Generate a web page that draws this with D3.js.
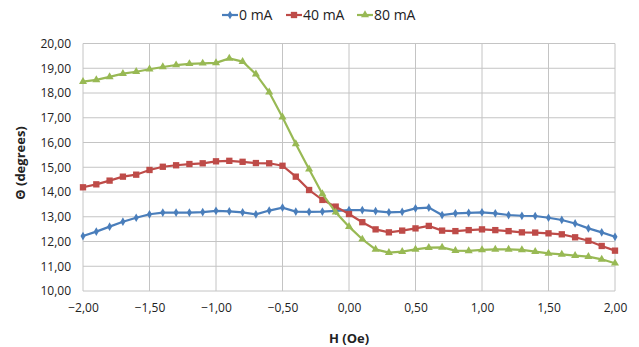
<!DOCTYPE html>
<html>
<head>
<meta charset="utf-8">
<script src="https://cdn.jsdelivr.net/npm/d3@7"></script>
<style>
  body { margin: 0; background: #fff; }
  text { font-family: "Open Sans", "Liberation Sans", sans-serif; fill: #222; }
</style>
</head>
<body>
<div id="chart"></div>
<script>
// Field values H (Oe)
const hValues = [
  -2.0, -1.9, -1.8, -1.7, -1.6, -1.5, -1.4, -1.3, -1.2, -1.1,
  -1.0, -0.9, -0.8, -0.7, -0.6, -0.5, -0.4, -0.3, -0.2, -0.1,
  0.0, 0.1, 0.2, 0.3, 0.4, 0.5, 0.6, 0.7, 0.8, 0.9,
  1.0, 1.1, 1.2, 1.3, 1.4, 1.5, 1.6, 1.7, 1.8, 1.9, 2.0
];

// Theta (degrees) for each current
const theta0mA = [
  12.22, 12.40, 12.60, 12.80, 12.96, 13.10, 13.17, 13.17, 13.17, 13.19,
  13.24, 13.22, 13.18, 13.10, 13.25, 13.37, 13.21, 13.20, 13.21, 13.24,
  13.27, 13.27, 13.23, 13.18, 13.20, 13.34, 13.37, 13.07, 13.14, 13.16,
  13.18, 13.14, 13.07, 13.04, 13.03, 12.96, 12.87, 12.73, 12.53, 12.37, 12.19
];
const theta40mA = [
  14.19, 14.31, 14.46, 14.62, 14.70, 14.89, 15.02, 15.08, 15.13, 15.16,
  15.24, 15.26, 15.22, 15.17, 15.16, 15.06, 14.62, 14.08, 13.68, 13.41,
  13.11, 12.78, 12.49, 12.37, 12.44, 12.53, 12.63, 12.44, 12.42, 12.46,
  12.49, 12.46, 12.42, 12.37, 12.36, 12.33, 12.29, 12.17, 12.03, 11.82, 11.63
];
const theta80mA = [
  18.46, 18.53, 18.65, 18.78, 18.86, 18.96, 19.05, 19.13, 19.18, 19.20,
  19.22, 19.40, 19.27, 18.76, 18.03, 17.02, 15.94, 14.92, 13.92, 13.18,
  12.60, 12.09, 11.68, 11.55, 11.59, 11.68, 11.75, 11.76, 11.63, 11.62,
  11.66, 11.68, 11.68, 11.66, 11.59, 11.52, 11.48, 11.43, 11.39, 11.28, 11.12
];

const seriesNames = ["0 mA", "40 mA", "80 mA"];
const xTicks = [-2, -1.5, -1, -0.5, 0, 0.5, 1, 1.5, 2];
const yTicks = [10, 11, 12, 13, 14, 15, 16, 17, 18, 19, 20];

const series = [
  { name: seriesNames[0], values: theta0mA, color: "#4a7ebb", symbol: d3.symbolDiamond, size: 22 },
  { name: seriesNames[1], values: theta40mA, color: "#be4b48", symbol: d3.symbolSquare, size: 40 },
  { name: seriesNames[2], values: theta80mA, color: "#98b954", symbol: d3.symbolTriangle, size: 28 }
];

const W = 639, H = 347;
const margin = { top: 43.5, right: 24, bottom: 56, left: 83 };
const width = W - margin.left - margin.right,
      height = H - margin.top - margin.bottom;

const svg = d3.select("#chart").append("svg")
  .attr("width", W)
  .attr("height", H);

const g = svg.append("g")
  .attr("transform", `translate(${margin.left},${margin.top})`);

const x = d3.scaleLinear().domain([-2, 2]).range([0, width]);
const y = d3.scaleLinear().domain([10, 20]).range([height, 0]);

const fmt = v => d3.format(".2f")(v).replace(".", ",");

// Gridlines
g.append("g")
  .selectAll("line.h")
  .data(yTicks)
  .enter().append("line")
  .attr("x1", 0).attr("x2", width)
  .attr("y1", d => y(d)).attr("y2", d => y(d))
  .attr("stroke", "#c4c4c4").attr("stroke-width", 1);

g.append("g")
  .selectAll("line.v")
  .data(xTicks)
  .enter().append("line")
  .attr("y1", 0).attr("y2", height)
  .attr("x1", d => x(d)).attr("x2", d => x(d))
  .attr("stroke", "#c4c4c4").attr("stroke-width", 1);

// Axes (labels only)
const xAxis = g.append("g")
  .attr("transform", `translate(0,${height})`)
  .call(d3.axisBottom(x).tickValues(xTicks).tickFormat(fmt).tickSize(0).tickPadding(12));
const yAxis = g.append("g")
  .call(d3.axisLeft(y).tickValues(yTicks).tickFormat(fmt).tickSize(0).tickPadding(12));
[xAxis, yAxis].forEach(a => {
  a.select(".domain").remove();
  a.selectAll("text").style("font-size", "12px").style("fill", "#222")
    .style("font-family", "'Open Sans', sans-serif");
});

// Lines and markers
const line = d3.line()
  .x((d, i) => x(hValues[i]))
  .y(d => y(d));

series.forEach(s => {
  g.append("path")
    .attr("d", line(s.values))
    .attr("fill", "none")
    .attr("stroke", s.color)
    .attr("stroke-width", 2.2);

  g.append("g")
    .selectAll("path")
    .data(s.values)
    .enter().append("path")
    .attr("transform", (d, i) => `translate(${x(hValues[i])},${y(d)})`)
    .attr("d", d3.symbol().type(s.symbol).size(s.size))
    .attr("fill", s.color);
});

// Axis titles
svg.append("text")
  .attr("x", margin.left + width / 2)
  .attr("y", 343)
  .attr("text-anchor", "middle")
  .style("font-size", "13px")
  .style("font-weight", "bold")
  .text("H (Oe)");

svg.append("text")
  .attr("transform", `translate(25,${163}) rotate(-90)`)
  .attr("text-anchor", "middle")
  .style("font-size", "13px")
  .style("font-weight", "bold")
  .text("Θ (degrees)");

// Legend
const legendX = [222, 286, 357];
const legend = svg.append("g");
series.forEach((s, i) => {
  const lg = legend.append("g").attr("transform", `translate(${legendX[i]},15)`);
  lg.append("line")
    .attr("x1", 0).attr("x2", 16)
    .attr("stroke", s.color).attr("stroke-width", 2.2);
  lg.append("path")
    .attr("transform", "translate(8,0)")
    .attr("d", d3.symbol().type(s.symbol).size(s.size))
    .attr("fill", s.color);
  lg.append("text")
    .attr("x", 17).attr("dy", "0.35em")
    .style("font-size", "14px")
    .text(s.name);
});
</script>
</body>
</html>
